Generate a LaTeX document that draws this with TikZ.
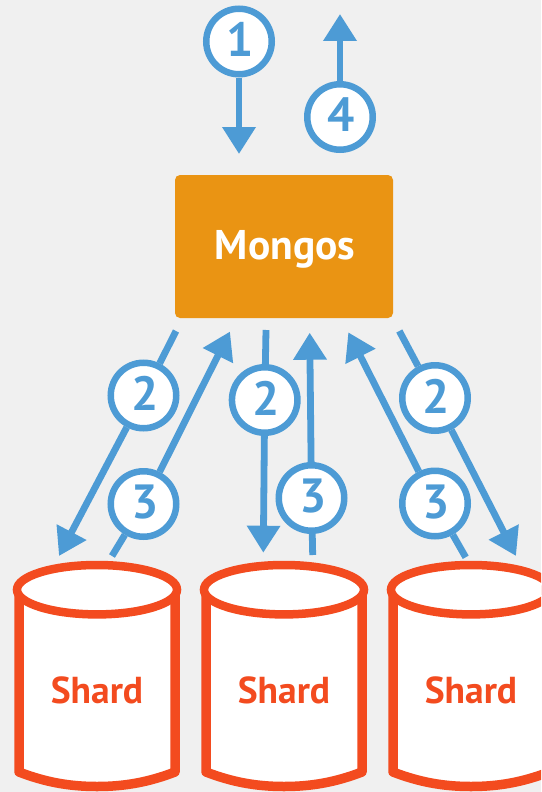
\documentclass[tikz,border=0pt]{standalone}
\usepackage{fontspec}
\setmainfont{PT Sans}
\usetikzlibrary{arrows.meta}
\definecolor{bgc}{HTML}{F0F0F0}
\definecolor{flowc}{HTML}{4D9BD5}
\definecolor{boxc}{HTML}{EA9413}
\definecolor{shardc}{HTML}{F34B1F}
\tikzset{
  num/.style={circle,draw=flowc,line width=6.5pt,fill=white,minimum size=65.5pt,inner sep=0pt,text=flowc,font=\bfseries\fontsize{48}{48}\selectfont},
  flowline/.style={draw=flowc,line width=6.8pt},
  flowarrow/.style={flowline,-{Triangle[length=27pt,width=32pt]}},
  shardbody/.style={draw=shardc,fill=white,line width=9.5pt,line join=round},
  shardtop/.style={draw=shardc,fill=white,line width=8.5pt},
  shardlabel/.style={text=shardc,font=\bfseries\fontsize{37.5}{37.5}\selectfont,inner sep=0pt},
  mongosbox/.style={fill=boxc,rounded corners=5pt,minimum width=218pt,minimum height=143pt,inner sep=0pt,text=white,font=\bfseries\fontsize{41.5}{41.5}\selectfont}
}
\newcommand{\dg}[1]{\hspace*{3pt}\rule[-4pt]{0pt}{4pt}#1}
\newcommand{\shardcyl}[2]{%
  \path[shardbody] (#1-78,590) -- (#1-78,772) .. controls (#1-52,782) and (#1-28,786.5) .. (#1,786.5) .. controls (#1+28,786.5) and (#1+52,782) .. (#1+78,772) -- (#1+78,590) -- cycle;
  \path[shardtop] (#1,589.7) ellipse [x radius=80,y radius=24.7];
  \node[shardlabel] (#2) at (#1,690) {Shard};
}
\begin{document}
\begin{tikzpicture}[x=1pt,y=-1pt]
\useasboundingbox (0,0) rectangle (541,792);
\fill[bgc] (0,0) rectangle (541,792);
\begin{scope}
\clip (0,0) rectangle (541,792);
\shardcyl{97}{s1}
\shardcyl{284}{s2}
\shardcyl{471}{s3}
\end{scope}
\node[mongosbox] (m) at (284,246.5) {\hspace*{2pt}\rule{0pt}{35pt}Mongos};
\node[num] (n1) at (239,41.5) {\dg{1}};
\node[num] (n4) at (340,117) {\dg{4}};
\node[num] (a2) at (143.5,395.5) {\dg{2}};
\node[num] (b2) at (264.7,400) {\dg{2}};
\node[num] (c2) at (435,398) {\dg{2}};
\node[num] (a3) at (143.5,504) {\dg{3}};
\node[num] (b3) at (311.5,498) {\dg{3}};
\node[num] (c3) at (435,503.5) {\dg{3}};
\coordinate (t1) at (239,154);
\coordinate (t4) at (340,14);
\coordinate (a2s) at (176,331);
\coordinate (a2e) at (59,556);
\coordinate (b2s) at (266,330);
\coordinate (b2e) at (263.3,552.7);
\coordinate (c2s) at (399.3,331);
\coordinate (c2e) at (516,556);
\coordinate (a3s) at (112,556);
\coordinate (a3e) at (230,331.5);
\coordinate (b3s) at (312.7,555);
\coordinate (b3e) at (309.7,332.7);
\coordinate (c3s) at (465.7,557.3);
\coordinate (c3e) at (348.3,332.3);
\draw[flowarrow] (n1) -- (t1);
\draw[flowarrow] (n4) -- (t4);
\draw[flowline] (a2s) -- (a2);
\draw[flowarrow] (a2) -- (a2e);
\draw[flowline] (b2s) -- (b2);
\draw[flowarrow] (b2) -- (b2e);
\draw[flowline] (c2s) -- (c2);
\draw[flowarrow] (c2) -- (c2e);
\draw[flowline] (a3s) -- (a3);
\draw[flowarrow] (a3) -- (a3e);
\draw[flowline] (b3s) -- (b3);
\draw[flowarrow] (b3) -- (b3e);
\draw[flowline] (c3s) -- (c3);
\draw[flowarrow] (c3) -- (c3e);
\end{tikzpicture}
\end{document}
